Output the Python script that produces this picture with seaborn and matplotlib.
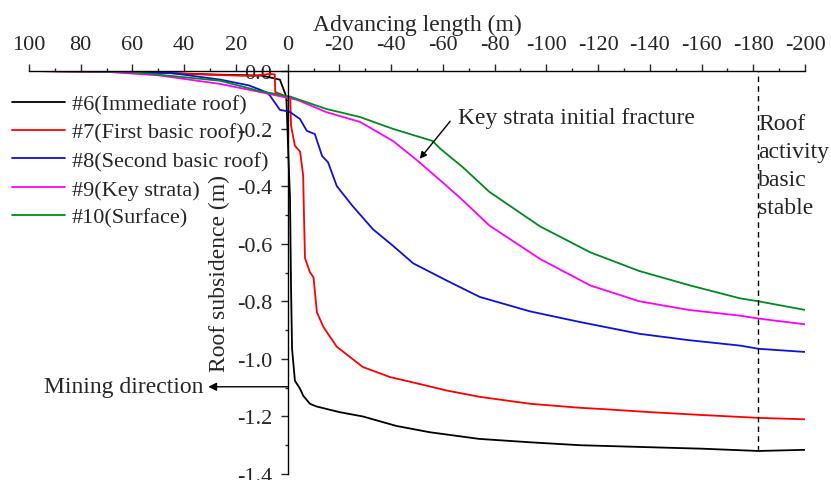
import matplotlib
matplotlib.use("Agg")
import matplotlib.pyplot as plt
import seaborn as sns
import pandas as pd
from matplotlib.ticker import MultipleLocator, FormatStrFormatter

# advancing length (m) and roof subsidence (m)
x6 = [100, 60, 30, 10, 3, 0.5, -0.3, -0.9, -1.3, -1.7, -2.8, -4.8, -6, -8.6, -11, -15, -20,
      -29, -42, -55, -74, -94, -113, -140, -160, -182, -200]
y6 = [0, -0.003, -0.012, -0.016, -0.03, -0.09, -0.3, -0.44, -0.75, -0.965, -1.076, -1.104,
      -1.128, -1.156, -1.165, -1.174, -1.185, -1.2, -1.233, -1.255, -1.278, -1.29, -1.3,
      -1.307, -1.312, -1.32, -1.316]

x7 = [100, 80, 61, 39, 19.5, 13.3, 6.8, 5.0, 4.8, 1, -1, -1.3, -2.8, -4.8, -6, -6.3, -6.7,
      -8.6, -10, -11.3, -13.8, -19, -29, -39.5, -48.5, -61.5, -74.3, -93.7, -113, -121,
      -140, -160, -182, -200]
y7 = [0, -0.001, -0.002, -0.01, -0.016, -0.017, -0.01, -0.012, -0.073, -0.087, -0.095,
      -0.19, -0.26, -0.28, -0.364, -0.5, -0.65, -0.699, -0.717, -0.838, -0.889, -0.958,
      -1.028, -1.063, -1.082, -1.11, -1.132, -1.156, -1.17, -1.174, -1.185, -1.195, -1.205,
      -1.21]

x8 = [100, 67.5, 45, 26, 15, 10.7, 8, 6.8, 3, 0, -1, -4.8, -7.4, -10.5, -13.3, -15.6, -19,
      -25, -33, -40.7, -48.5, -61.5, -74.3, -93.7, -113, -136, -155, -175, -182, -200]
y8 = [0, -0.002, -0.007, -0.03, -0.05, -0.065, -0.075, -0.086, -0.135, -0.14, -0.143,
      -0.167, -0.208, -0.219, -0.295, -0.317, -0.40, -0.468, -0.55, -0.607, -0.668, -0.728,
      -0.785, -0.835, -0.872, -0.913, -0.935, -0.954, -0.965, -0.976]

x9 = [100, 70, 50, 26, 10.7, -3.6, -15, -28, -40.7, -50, -59, -66.6, -78, -97.6, -117, -136,
      -155, -175, -182, -200]
y9 = [0, -0.003, -0.015, -0.045, -0.073, -0.1, -0.143, -0.177, -0.243, -0.31, -0.38, -0.44,
      -0.537, -0.653, -0.745, -0.8, -0.83, -0.85, -0.86, -0.88]

x10 = [100, 61, 26, 10.7, -1, -15, -28, -40.7, -52, -56, -59, -67.8, -78, -97.6, -117, -136,
       -155.6, -175, -182, -200]
y10 = [0, -0.003, -0.034, -0.07, -0.089, -0.132, -0.16, -0.201, -0.232, -0.243, -0.27,
       -0.335, -0.42, -0.54, -0.63, -0.695, -0.745, -0.79, -0.80, -0.83]

names = ["#6(Immediate roof)", "#7(First basic roof)", "#8(Second basic roof)",
         "#9(Key strata)", "#10(Surface)"]
colors = ["#000000", "#ff0000", "#1010e0", "#ff00ff", "#008a20"]

df = pd.concat([
    pd.DataFrame({"x": xs, "y": ys, "layer": n})
    for xs, ys, n in zip([x6, x7, x8, x9, x10], [y6, y7, y8, y9, y10], names)
])

sns.set_style("white")
plt.rcParams["font.family"] = ["Liberation Serif", "DejaVu Serif"]
plt.rcParams["axes.unicode_minus"] = False
fs = 17      # titles and notes
fs_tick = 16
fs_leg = 16

fig = plt.figure(figsize=(8.31, 4.81), dpi=100)
ax = fig.add_axes([29 / 831, 6 / 481, 776 / 831, 403 / 481])

sns.lineplot(data=df, x="x", y="y", hue="layer", palette=colors, hue_order=names,
             estimator=None, sort=True, lw=1.3, ax=ax)

ax.set_xlim(100, -200)
ax.set_ylim(-1.4, 0)

ax.spines["right"].set_visible(False)
ax.spines["bottom"].set_visible(False)
ax.spines["left"].set_position(("data", 0))
for s in ["top", "left"]:
    ax.spines[s].set_linewidth(1.0)
    ax.spines[s].set_color("black")

ax.xaxis.tick_top()
ax.xaxis.set_label_position("top")
ax.xaxis.set_major_locator(MultipleLocator(20))
ax.xaxis.set_minor_locator(MultipleLocator(10))
ax.yaxis.set_major_locator(MultipleLocator(0.2))
ax.yaxis.set_minor_locator(MultipleLocator(0.1))
ax.yaxis.set_major_formatter(FormatStrFormatter("%.1f"))
ax.tick_params(axis="x", which="major", direction="out", length=5, width=1,
               top=True, bottom=False, labelsize=fs_tick, pad=7)
ax.tick_params(axis="x", which="minor", direction="out", length=2.5, width=1,
               top=True, bottom=False)
ax.tick_params(axis="y", which="major", direction="out", length=5, width=1,
               left=True, labelsize=fs_tick, pad=6)
ax.tick_params(axis="y", which="minor", direction="out", length=2.5, width=1, left=True)

ax.set_xlabel("Advancing length (m)", fontsize=fs, labelpad=4)
ax.set_ylabel("Roof subsidence (m)", fontsize=fs)
ax.yaxis.set_label_coords(0.259, 0.5)

handles, labels = ax.get_legend_handles_labels()
ax.legend(handles, labels, loc="upper left", bbox_to_anchor=(12 / 831, 1 - 95 / 481),
          bbox_transform=fig.transFigure, frameon=False, fontsize=fs_leg, handlelength=2.4,
          handletextpad=0.3, labelspacing=0.35, borderpad=0, borderaxespad=0)

# annotations
ax.axvline(-182, ymin=(1.4 - 1.32) / 1.4, ymax=1, color="black", lw=1, ls=(0, (4, 3)))
ax.text(-182, -0.145, "Roof\nactivity\nbasic\nstable", fontsize=fs, ha="left", va="top",
        linespacing=1.45)
ax.text(-65.8, -0.16, "Key strata initial fracture", fontsize=fs, ha="left", va="center")
ax.annotate("", xy=(-50.4, -0.3125), xytext=(-63.5, -0.167),
            arrowprops=dict(arrowstyle="-|>", color="black", lw=1, mutation_scale=10))
ax.annotate("", xy=(30.7, -1.097), xytext=(0, -1.097),
            arrowprops=dict(arrowstyle="-|>", color="black", lw=1, mutation_scale=12,
                            shrinkA=0, shrinkB=0))
ax.text(32.7, -1.097, "Mining direction", fontsize=fs, ha="right", va="center")

fig.savefig("out.png", dpi=100)
